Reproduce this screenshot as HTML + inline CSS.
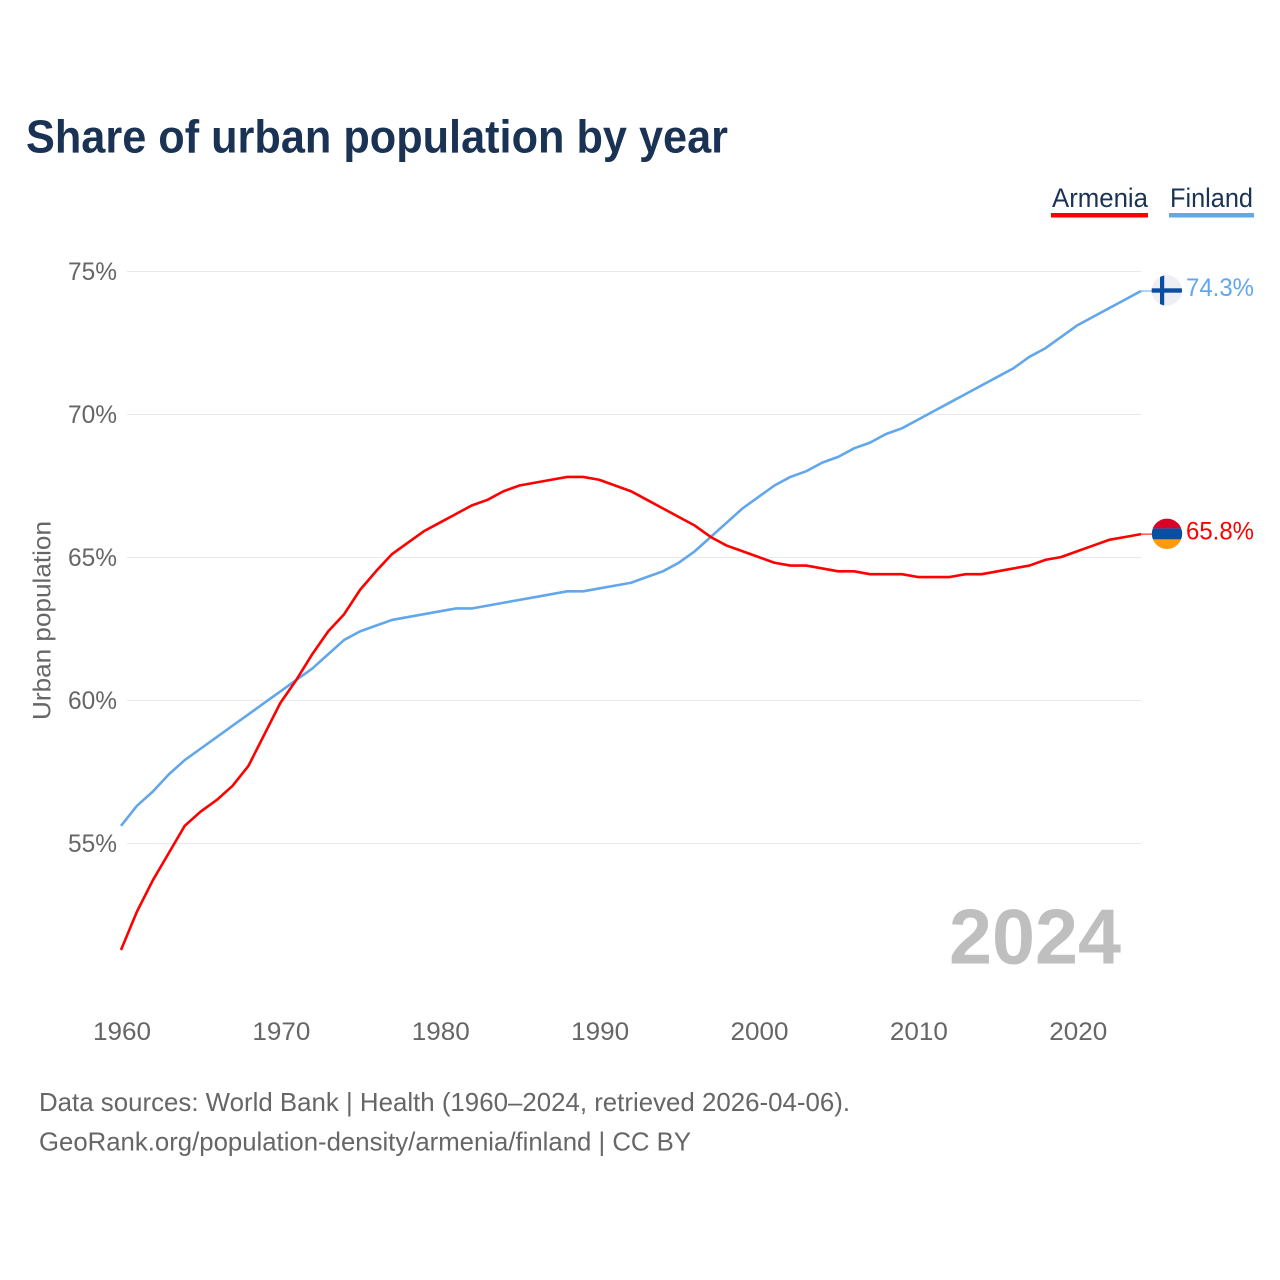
<!DOCTYPE html>
<html lang="en">
<head>
<meta charset="utf-8">
<title>Share of urban population by year</title>
<style>
html,body{margin:0;padding:0;background:#fff;width:1280px;height:1280px;overflow:hidden}
svg{display:block}
text{font-family:"Liberation Sans",sans-serif}
</style>
</head>
<body>
<svg id="chart" width="1280" height="1280" viewBox="0 0 1280 1280" xmlns="http://www.w3.org/2000/svg">
  <rect width="1280" height="1280" fill="#fff"/>
  <text x="26" y="152.5" font-size="46" font-weight="700" fill="#1a3354" textLength="702" lengthAdjust="spacingAndGlyphs">Share of urban population by year</text>

  <g id="grid"></g>
  <g id="yticks"></g>
  <g id="xticks"></g>

  <text transform="translate(50.5 620.5) rotate(-90)" text-anchor="middle" font-size="25" fill="#666" textLength="199" lengthAdjust="spacingAndGlyphs">Urban population</text>

  <text x="949" y="963.5" font-size="78" font-weight="700" fill="#bfbfbf" textLength="172" lengthAdjust="spacingAndGlyphs">2024</text>

  <g id="series"></g>

  <g>
    <g>
      <text x="1052" y="207" font-size="27" fill="#1a3354" textLength="96" lengthAdjust="spacingAndGlyphs">Armenia</text>
      <rect x="1051" y="213" width="97" height="4.5" fill="#ff0000"/>
    </g>
    <g>
      <text x="1170" y="207" font-size="27" fill="#1a3354" textLength="83" lengthAdjust="spacingAndGlyphs">Finland</text>
      <rect x="1169" y="213" width="85" height="4.5" fill="#62a6ec"/>
    </g>
  </g>

  <defs>
    <clipPath id="flagClipFi"><circle cx="1166.8" cy="290.5" r="15.2"/></clipPath>
    <clipPath id="flagClipAm"><circle cx="1167" cy="533.8" r="15.2"/></clipPath>
  </defs>

  <g clip-path="url(#flagClipFi)">
    <rect x="1151" y="275" width="32" height="31" fill="#edeff5"/>
    <rect x="1151" y="288.3" width="32" height="4.4" fill="#0a4ea2"/>
    <rect x="1160" y="275" width="4.2" height="31" fill="#0a4ea2"/>
  </g>
  <g clip-path="url(#flagClipAm)">
    <rect x="1151" y="518" width="32" height="10.4" fill="#d90429"/>
    <rect x="1151" y="528.4" width="32" height="11" fill="#0a4ea2"/>
    <rect x="1151" y="539.4" width="32" height="10.6" fill="#ff9a0d"/>
  </g>

  <text x="1186" y="296" font-size="25" fill="#62a6ec" textLength="68" lengthAdjust="spacingAndGlyphs">74.3%</text>
  <text x="1186" y="539.5" font-size="25" fill="#ff0000" textLength="68" lengthAdjust="spacingAndGlyphs">65.8%</text>

  <text x="39" y="1111" font-size="26" fill="#666" textLength="811" lengthAdjust="spacingAndGlyphs">Data sources: World Bank | Health (1960–2024, retrieved 2026-04-06).</text>
  <text x="39" y="1150.5" font-size="26" fill="#666" textLength="652" lengthAdjust="spacingAndGlyphs">GeoRank.org/population-density/armenia/finland | CC BY</text>
</svg>

<script>
const startYear = 1960;
const armeniaValues = [51.26,52.6,53.7,54.65,55.6,56.1,56.5,57.0,57.7,58.8,59.9,60.7,61.6,62.4,63.0,63.85,64.5,65.1,65.5,65.9,66.2,66.5,66.8,67.0,67.3,67.5,67.6,67.7,67.8,67.8,67.7,67.5,67.3,67.0,66.7,66.4,66.1,65.7,65.4,65.2,65.0,64.8,64.7,64.7,64.6,64.5,64.5,64.4,64.4,64.4,64.3,64.3,64.3,64.4,64.4,64.5,64.6,64.7,64.9,65.0,65.2,65.4,65.6,65.7,65.8];
const finlandValues = [55.6,56.3,56.8,57.4,57.9,58.3,58.7,59.1,59.5,59.9,60.3,60.7,61.1,61.6,62.1,62.4,62.6,62.8,62.9,63.0,63.1,63.2,63.2,63.3,63.4,63.5,63.6,63.7,63.8,63.8,63.9,64.0,64.1,64.3,64.5,64.8,65.2,65.7,66.2,66.7,67.1,67.5,67.8,68.0,68.3,68.5,68.8,69.0,69.3,69.5,69.8,70.1,70.4,70.7,71.0,71.3,71.6,72.0,72.3,72.7,73.1,73.4,73.7,74.0,74.3];
const yTickValues = [75,70,65,60,55];
const xTickValues = [1960,1970,1980,1990,2000,2010,2020];

const NS = 'http://www.w3.org/2000/svg';
function xScale(year){ return 121 + (year - 1960) * (1141 - 121) / 64; }
function yScale(v){ return 271 + (75 - v) * (843 - 271) / 20; }

const gridG = document.getElementById('grid');
const yG = document.getElementById('yticks');
const xG = document.getElementById('xticks');
const seriesG = document.getElementById('series');

yTickValues.forEach(function(v){
  const ln = document.createElementNS(NS,'line');
  
  
  ln.setAttribute('x1', 127);
  ln.setAttribute('x2', 1141);
  ln.setAttribute('y1', yScale(v) + 0.5);
  ln.setAttribute('y2', yScale(v) + 0.5);
  ln.setAttribute('stroke', '#e9e9e9');
  ln.setAttribute('stroke-width', '1');
  gridG.appendChild(ln);

  const t = document.createElementNS(NS,'text');
  
  
  t.setAttribute('x', 117);
  t.setAttribute('y', yScale(v) + 9);
  t.setAttribute('text-anchor', 'end');
  t.setAttribute('font-size', '25');
  t.setAttribute('fill', '#666');
  t.setAttribute('textLength', '49');
  t.setAttribute('lengthAdjust', 'spacingAndGlyphs');
  t.textContent = v + '%';
  yG.appendChild(t);
});

xTickValues.forEach(function(y){
  const t = document.createElementNS(NS,'text');
  
  
  t.setAttribute('x', xScale(y) + 1);
  t.setAttribute('y', 1040);
  t.setAttribute('text-anchor', 'middle');
  t.setAttribute('font-size', '25');
  t.setAttribute('fill', '#666');
  t.setAttribute('textLength', '58');
  t.setAttribute('lengthAdjust', 'spacingAndGlyphs');
  t.textContent = y;
  xG.appendChild(t);
});

function linePoints(values){
  return values.map(function(v,i){
    return xScale(startYear + i).toFixed(2) + ',' + yScale(v).toFixed(2);
  }).join(' ');
}

const finlandLine = document.createElementNS(NS,'polyline');


finlandLine.setAttribute('points', linePoints(finlandValues));
finlandLine.setAttribute('fill', 'none');
finlandLine.setAttribute('stroke', '#62a6ec');
finlandLine.setAttribute('stroke-width', '2.6');
finlandLine.setAttribute('stroke-linejoin', 'round');
seriesG.appendChild(finlandLine);

const armeniaLine = document.createElementNS(NS,'polyline');


armeniaLine.setAttribute('points', linePoints(armeniaValues));
armeniaLine.setAttribute('fill', 'none');
armeniaLine.setAttribute('stroke', '#ff0000');
armeniaLine.setAttribute('stroke-width', '2.6');
armeniaLine.setAttribute('stroke-linejoin', 'round');
seriesG.appendChild(armeniaLine);

const finlandLeader = document.createElementNS(NS,'line');


finlandLeader.setAttribute('x1', xScale(2024));
finlandLeader.setAttribute('x2', 1152);
finlandLeader.setAttribute('y1', yScale(finlandValues[finlandValues.length - 1]));
finlandLeader.setAttribute('y2', yScale(finlandValues[finlandValues.length - 1]));
finlandLeader.setAttribute('stroke', '#62a6ec');
finlandLeader.setAttribute('stroke-width', '1');
seriesG.appendChild(finlandLeader);

const armeniaLeader = document.createElementNS(NS,'line');


armeniaLeader.setAttribute('x1', xScale(2024));
armeniaLeader.setAttribute('x2', 1152);
armeniaLeader.setAttribute('y1', yScale(armeniaValues[armeniaValues.length - 1]));
armeniaLeader.setAttribute('y2', yScale(armeniaValues[armeniaValues.length - 1]));
armeniaLeader.setAttribute('stroke', '#ff0000');
armeniaLeader.setAttribute('stroke-width', '1');
seriesG.appendChild(armeniaLeader);
</script>
</body>
</html>
